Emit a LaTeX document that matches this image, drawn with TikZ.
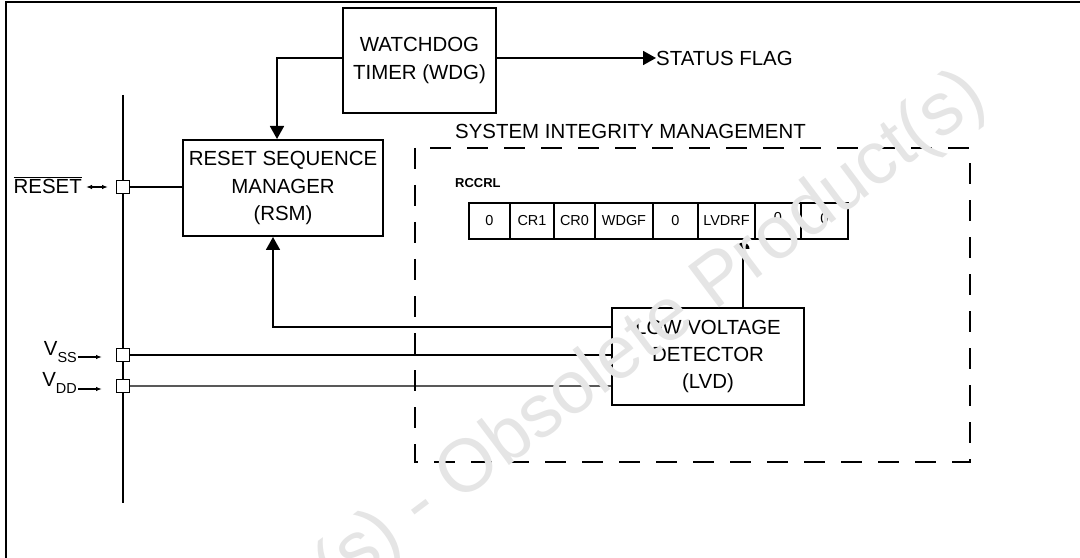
\documentclass[tikz,border=0pt]{standalone}
\usepackage{fontspec}
\setmainfont{Liberation Sans}
\usetikzlibrary{arrows.meta}
\tikzset{
  box/.style={draw, line width=2bp, inner sep=0pt, align=center, font=\fontsize{20.5}{27.5}\selectfont},
  cell/.style={draw, line width=2bp, inner sep=0pt, minimum height=36bp, font=\fontsize{14.5}{15}\selectfont},
  sq/.style={draw, fill=white, line width=1.6bp, minimum size=13bp, inner sep=0pt},
  conn/.style={line width=1.8bp},
  bigarrow/.style={conn, -{Triangle[length=13bp,width=14bp]}},
  smallarrow/.style={line width=1.2bp, -{Latex[length=6bp,width=4.5bp]}},
  lbl/.style={inner sep=0pt, font=\fontsize{20.5}{24}\selectfont},
  wm/.style={text=gray!20, inner sep=0pt, font=\fontsize{75}{75}\selectfont}
}
\begin{document}
\begin{tikzpicture}[x=1bp,y=-1bp]
\useasboundingbox (0,0) rectangle (1080,558);
% frame
\draw[line width=2bp] (5.5,558) -- (5.5,2) -- (1080,2);
% bus
\coordinate (busT) at (123,95);
\coordinate (busB) at (123,503);
\draw[conn] (busT) -- (busB);
% boxes
\node[box, minimum width=200bp, minimum height=96bp] (rsm) at (283,188) {RESET SEQUENCE\\MANAGER\\(RSM)};
\node[box, minimum width=153bp, minimum height=105bp] (wdg) at (419.5,60.5) {WATCHDOG\\TIMER (WDG)};
\node[box, minimum width=192bp, minimum height=97bp] (lvd) at (708,356.5) {LOW VOLTAGE\\DETECTOR\\(LVD)};
% squares
\node[sq] (sqr) at (123,187) {};
\node[sq] (sqs) at (123,355) {};
\node[sq] (sqd) at (123,386) {};
% left labels
\node[lbl, anchor=east] (rst) at (82,185) {$\overline{\hbox{RESET}}$};
\node[lbl, anchor=east] (vss) at (77,352) {V\raisebox{-0.3em}{\fontsize{14.5}{15}\selectfont SS}};
\node[lbl, anchor=east] (vdd) at (77,383) {V\raisebox{-0.3em}{\fontsize{14.5}{15}\selectfont DD}};
\coordinate (rstA) at (86,187);
\coordinate (rstB) at (108,187);
\draw[line width=1.2bp, {Latex[length=6bp,width=4.5bp]}-{Latex[length=6bp,width=4.5bp]}] (rstA) -- (rstB);
\coordinate (vssA) at (78,357);
\coordinate (vssB) at (102,357);
\draw[smallarrow] (vssA) -- (vssB);
\coordinate (vddA) at (78,389);
\coordinate (vddB) at (102,389);
\draw[smallarrow] (vddA) -- (vddB);
% connections
\draw[conn] (sqr.east) -- (rsm.west |- sqr.east);
\draw[conn] (sqs.east) -- (lvd.west |- sqs.east);
\draw[line width=1.2bp, gray!70!black] (sqd.east) -- (lvd.west |- sqd.east);
\coordinate (wdgL) at (277,58);
\draw[bigarrow] (wdg.west |- wdgL) -- (wdgL) -- (wdgL |- rsm.north);
\coordinate (lvdL) at (273,327);
\draw[bigarrow] (lvd.west |- lvdL) -- (lvdL) -- (lvdL |- rsm.south);
\node[lbl, anchor=west] (flag) at (656,58) {STATUS FLAG};
\draw[bigarrow] (wdg.east |- flag.west) -- (flag.west);
% system integrity management
\draw[line width=2bp, dash pattern=on 21bp off 16bp] (415,148) rectangle (970,462);
\node[lbl, anchor=west] (sim) at (455,131) {SYSTEM INTEGRITY MANAGEMENT};
\node[inner sep=0pt, anchor=west, font=\fontsize{13}{13}\selectfont\bfseries] (rccrl) at (455,183) {RCCRL};
% register
\node[cell, minimum width=41bp] (c1) at (489.5,221) {0};
\node[cell, minimum width=44bp] (c2) at (532,221) {CR1};
\node[cell, minimum width=41bp] (c3) at (574.5,221) {CR0};
\node[cell, minimum width=58bp] (c4) at (624,221) {WDGF};
\node[cell, minimum width=45bp] (c5) at (675.5,221) {0};
\node[cell, minimum width=57bp] (c6) at (726.5,221) {LVDRF};
\node[cell, minimum width=46bp] (c7) at (778,221) {\raisebox{0.5em}{0}};
\node[cell, minimum width=47bp] (c8) at (824.5,221) {\raisebox{0.4em}{0}};
\coordinate (lvdT) at (743,249);
\draw[conn] (lvd.north -| lvdT) -- (lvdT);
\fill (lvdT) ++(-6.5,0) arc[start angle=180, end angle=360, radius=6.5] -- cycle;
% watermark
\begin{scope}
\clip (0,0) rectangle (1080,558);
\node[wm, rotate=37, anchor=base west] (wmk) at (336,596) {(s) - Obsolete Product(s)};
\end{scope}
\end{tikzpicture}
\end{document}
